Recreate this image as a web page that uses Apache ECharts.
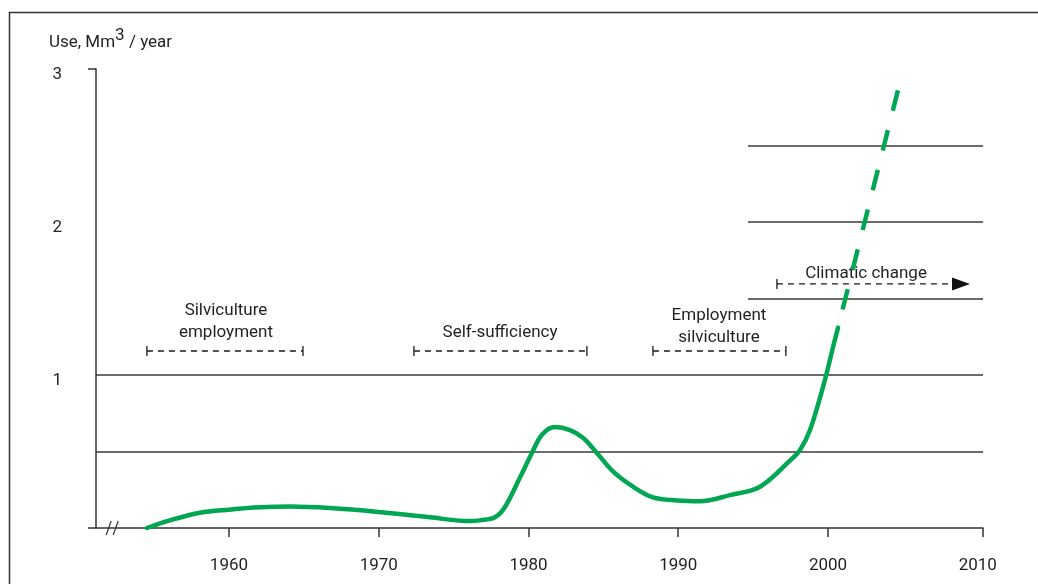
<!DOCTYPE html>
<html>
<head>
<meta charset="utf-8">
<script src="https://cdn.jsdelivr.net/npm/echarts@6/dist/echarts.min.js"></script>
<style>
html,body{margin:0;padding:0;background:#fff;}
#chart{width:1038px;height:584px;}
</style>
</head>
<body>
<div id="chart"></div>
<script>
// ---- data ----
const curveYears  = [1954.52,1956.06,1958.06,1960.0,1962.07,1964.07,1966.74,1969.95,1973.42,1976.09,1976.76,1977.76,1978.43,1979.43,1980.23,1980.9,1981.77,1982.77,1983.64,1984.57,1985.64,1986.98,1988.31,1989.92,1991.45,1993.46,1995.46,1997.46,1998.13,1998.8,1999.8,2000.33,2000.67];
const curveValues = [0,0.05,0.10,0.12,0.135,0.14,0.13,0.105,0.07,0.045,0.05,0.07,0.137,0.33,0.49,0.61,0.66,0.64,0.59,0.49,0.37,0.27,0.20,0.18,0.175,0.215,0.27,0.44,0.51,0.64,0.97,1.18,1.31];
const projYears  = [2004.67, 2000.67];
const projValues = [2.86, 1.31];

const fullRefLevels = [0.5, 1];
const partialRefLevels = [1.5, 2, 2.5];
const partialRefStart = 1994.66;

const periodLabels = ['Silviculture\nemployment', 'Self-sufficiency', 'Employment\nsilviculture', 'Climatic change'];
const periodStart  = [1954.52, 1972.35, 1988.31, 1996.59];
const periodEnd    = [1964.94, 1983.90, 1997.19, 2009.48];
const periodLevel  = [1.157, 1.157, 1.157, 1.595];
const periodTextYear = [1959.8, 1978.1, 1992.72, 2002.54];
const periodTextGap  = [18, 18, 13, 10];
const periodArrow  = [false, false, false, true];

const xTickYears  = [1960, 1970, 1980, 1990, 2000, 2010];
const yTickLabels = [1, 2, 3];
const xMin = 1951.12, xMax = 2010.35;
const yMin = 0, yMax = 3;
const breakYear = 1952.2;

// ---- chart ----
const FONT = 'Roboto, "Liberation Sans", sans-serif';
const FS = 17;
const INK = '#333333';
const TXT = '#231f20';
const GREEN = '#00a651';
const chart = echarts.init(document.getElementById('chart'), null, {renderer: 'canvas'});

const curveData = curveYears.map((y, i) => [y, curveValues[i]]);
const projData = projYears.map((y, i) => [y, projValues[i]]);

const refLineData = [];
fullRefLevels.forEach(v => refLineData.push([{coord: [xMin, v]}, {coord: [xMax, v]}]));
partialRefLevels.forEach(v => refLineData.push([{coord: [partialRefStart, v]}, {coord: [xMax, v]}]));

function renderPeriod(params, api) {
  const i = api.value(0);
  const p1 = api.coord([periodStart[i], periodLevel[i]]);
  const p2 = api.coord([periodEnd[i], periodLevel[i]]);
  const tc = api.coord([periodTextYear[i], periodLevel[i]]);
  const lines = periodLabels[i].split('\n');
  const lh = 22;
  const children = [];
  const lineEnd = periodArrow[i] ? p2[0] - 16 : p2[0];
  children.push({type: 'line', shape: {x1: p1[0], y1: p1[1], x2: lineEnd, y2: p2[1]},
    style: {stroke: '#1a1a1a', lineWidth: 1.3, lineDash: [6, 5]}});
  children.push({type: 'line', shape: {x1: p1[0], y1: p1[1] - 5, x2: p1[0], y2: p1[1] + 5},
    style: {stroke: '#1a1a1a', lineWidth: 1.3}});
  if (periodArrow[i]) {
    children.push({type: 'polygon', shape: {points: [[p2[0], p2[1]], [p2[0] - 18, p2[1] - 6.5], [p2[0] - 18, p2[1] + 6.5]]},
      style: {fill: '#111'}});
  } else {
    children.push({type: 'line', shape: {x1: p2[0], y1: p2[1] - 5, x2: p2[0], y2: p2[1] + 5},
      style: {stroke: '#1a1a1a', lineWidth: 1.3}});
  }
  lines.forEach((t, k) => {
    const cy = p1[1] - periodTextGap[i] - (lines.length - 1 - k) * lh;
    children.push({type: 'text', style: {text: t, x: tc[0], y: cy, align: 'center', verticalAlign: 'middle',
      fill: TXT, font: FS + 'px ' + FONT}});
  });
  return {type: 'group', children: children};
}

function renderBreak(params, api) {
  const p = api.coord([api.value(0), 0]);
  const mk = dx => ({type: 'line', shape: {x1: p[0] + dx - 2.5, y1: p[1] + 7, x2: p[0] + dx + 2.5, y2: p[1] - 7},
    style: {stroke: INK, lineWidth: 1.2}});
  return {type: 'group', children: [mk(-3.5), mk(3.5)]};
}

chart.setOption({
  animation: false,
  backgroundColor: '#fff',
  textStyle: {fontFamily: FONT},
  grid: {left: 96, right: 55, top: 69, bottom: 56, containLabel: false},
  xAxis: {
    type: 'value', min: xMin, max: xMax,
    axisLine: {show: true, lineStyle: {color: INK, width: 1.5}},
    axisTick: {show: true, length: 9, customValues: xTickYears.slice(0, 5).concat([xMax]), lineStyle: {color: INK, width: 1.5}},
    axisLabel: {customValues: xTickYears, margin: 29, fontSize: FS, color: TXT, fontFamily: FONT, formatter: v => String(v)},
    splitLine: {show: false}
  },
  yAxis: {
    type: 'value', min: yMin, max: yMax,
    axisLine: {show: true, lineStyle: {color: INK, width: 1.5}},
    axisTick: {show: true, length: 8, customValues: [yMin, yMax], lineStyle: {color: INK, width: 1.5}},
    axisLabel: {customValues: yTickLabels, margin: 34, fontSize: FS, color: TXT, fontFamily: FONT,
      verticalAlign: 'top', lineHeight: 12, formatter: v => String(v)},
    splitLine: {show: false}
  },
  graphic: [
    {type: 'rect', left: 7, top: 10, shape: {x: 0, y: 0, width: 1060, height: 600}, style: {fill: 'none', stroke: INK, lineWidth: 1.5}, silent: true, z: -1},
    {type: 'text', left: 49, top: 27, style: {
      text: '{a|Use, Mm}{s|3}{a| / year}', fill: TXT,
      rich: {a: {fontSize: FS, fontFamily: FONT, verticalAlign: 'bottom', lineHeight: 24},
             s: {fontSize: FS, fontFamily: FONT, verticalAlign: 'top', lineHeight: 24, padding: [0, 0, 6, 0]}}
    }}
  ],
  series: [
    {type: 'line', data: [], silent: true,
      markLine: {silent: true, symbol: ['none', 'none'], label: {show: false}, animation: false,
        lineStyle: {color: '#3a3a3a', width: 1.5, type: 'solid'}, data: refLineData}},
    {type: 'line', data: curveData, smooth: 0.35, showSymbol: false, clip: false, silent: true,
      lineStyle: {color: GREEN, width: 4.5, cap: 'round'}, z: 5},
    {type: 'line', data: projData, showSymbol: false, clip: false, silent: true,
      lineStyle: {color: GREEN, width: 4.5, type: [21, 20], cap: 'butt'}, z: 5},
    {type: 'custom', data: periodLabels.map((_, i) => [i]), renderItem: renderPeriod, clip: false, silent: true, z: 4},
    {type: 'custom', data: [[breakYear]], renderItem: renderBreak, clip: false, silent: true, z: 6}
  ]
});
</script>
</body>
</html>
